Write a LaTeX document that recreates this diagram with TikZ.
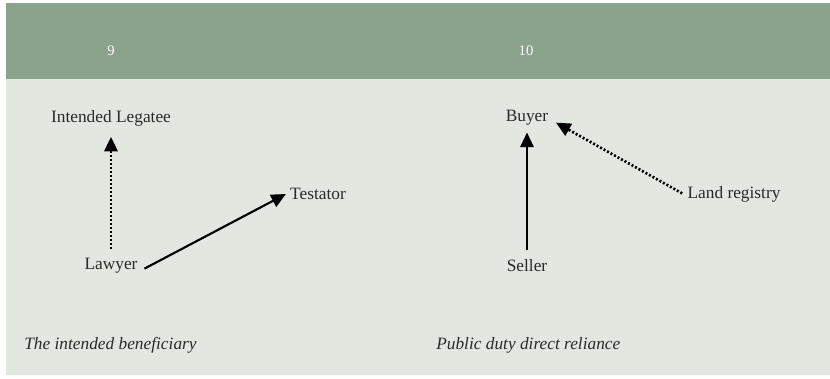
\documentclass[tikz,border=0pt]{standalone}
\usepackage{fontspec}
\setmainfont{Liberation Serif}
\usetikzlibrary{arrows.meta}
\definecolor{bandgreen}{HTML}{8AA38A}
\definecolor{panelgrey}{HTML}{E2E7E0}
\definecolor{inktext}{HTML}{2A2A2A}
\tikzset{
  party/.style={font=\fontsize{13}{15}\selectfont, text=inktext, inner sep=3pt},
  caption/.style={font=\fontsize{13}{15}\selectfont\itshape, text=inktext, anchor=west, inner sep=0pt},
  casenum/.style={font=\fontsize{11}{13}\selectfont, text=white},
  duty/.style={line width=1.6pt, draw=black, -{Triangle[length=11pt,width=10pt]}},
  reliance/.style={line width=2pt, draw=black, dash pattern=on 1.5pt off 1.5pt, -{Triangle[length=11pt,width=10pt]}}
}
\begin{document}
\begin{tikzpicture}[x=0.75pt,y=-0.75pt]
  \useasboundingbox (0,0) rectangle (830,378);
  \fill[white] (0,0) rectangle (830,378);
  % header band and panel
  \fill[bandgreen] (6,3) rectangle (830,79);
  \fill[panelgrey] (6,79) rectangle (830,375);

  \node[casenum] (n9) at (111,51) {9};
  \node[casenum] (n10) at (526,51) {10};

  % case 9
  \node[party] (legatee) at (111,118) {Intended Legatee};
  \node[party] (lawyer) at (111,266) {Lawyer};
  \node[party] (testator) at (318,194) {Testator};
  \draw[reliance, shorten <=4pt, shorten >=5pt] (lawyer.north) -- (legatee.south);
  \draw[duty] ([xshift=2pt,yshift=-2pt]lawyer.east) -- (testator.west);

  % case 10
  \node[party] (buyer) at (527,118) {Buyer};
  \node[party] (seller) at (527,266) {Seller};
  \node[party] (registry) at (734,194) {Land registry};
  \draw[duty, shorten <=4pt, shorten >=2pt] (seller.north) -- (buyer.south);
  \draw[reliance, shorten <=1pt, shorten >=3pt] (registry.west) -- ([yshift=-2pt]buyer.east);

  \node[caption] (cap9) at (24,345) {The intended beneficiary};
  \node[caption] (cap10) at (436,345) {Public duty direct reliance};
\end{tikzpicture}
\end{document}
